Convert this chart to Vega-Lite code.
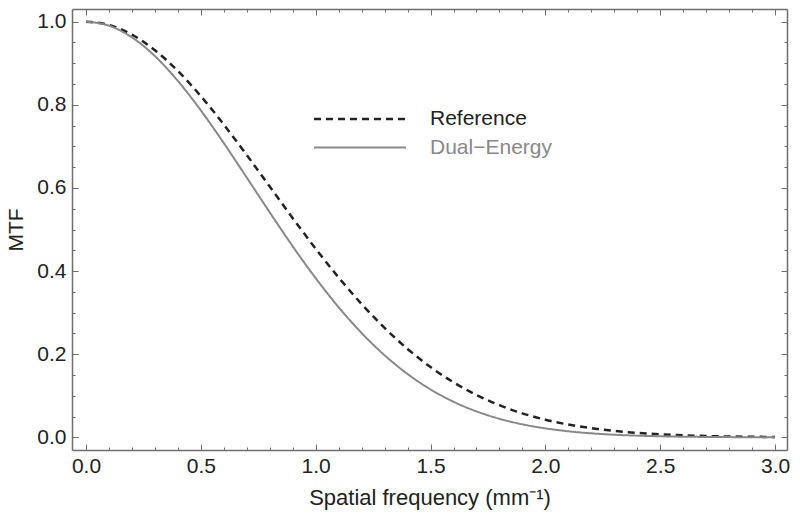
{
  "$schema": "https://vega.github.io/schema/vega-lite/v6.json",
  "width": 715,
  "height": 441,
  "autosize": "none",
  "padding": {"left": 72, "top": 9, "right": 13, "bottom": 71},
  "background": "white",
  "config": {
    "view": {"stroke": null},
    "font": "Liberation Sans",
    "axis": {
      "grid": false,
      "domainColor": "#6e6e6e",
      "domainWidth": 1.5,
      "tickColor": "#6e6e6e",
      "tickWidth": 1,
      "labelFont": "Liberation Sans",
      "labelFontSize": 21,
      "labelColor": "#222",
      "titleFont": "Liberation Sans",
      "titleFontSize": 21,
      "titleFontWeight": "normal",
      "titleColor": "#222",
      "labelOverlap": false,
      "labelFlush": false
    }
  },
  "data": {
    "values": [
      {"f": 0.0, "mtf": 1.0, "s": "Reference"},
      {"f": 0.1, "mtf": 0.9921, "s": "Reference"},
      {"f": 0.2, "mtf": 0.9689, "s": "Reference"},
      {"f": 0.3, "mtf": 0.9314, "s": "Reference"},
      {"f": 0.4, "mtf": 0.8813, "s": "Reference"},
      {"f": 0.5, "mtf": 0.8208, "s": "Reference"},
      {"f": 0.6, "mtf": 0.7525, "s": "Reference"},
      {"f": 0.7, "mtf": 0.679, "s": "Reference"},
      {"f": 0.8, "mtf": 0.6032, "s": "Reference"},
      {"f": 0.9, "mtf": 0.5273, "s": "Reference"},
      {"f": 1.0, "mtf": 0.4538, "s": "Reference"},
      {"f": 1.1, "mtf": 0.3845, "s": "Reference"},
      {"f": 1.2, "mtf": 0.3206, "s": "Reference"},
      {"f": 1.3, "mtf": 0.2631, "s": "Reference"},
      {"f": 1.4, "mtf": 0.2126, "s": "Reference"},
      {"f": 1.5, "mtf": 0.169, "s": "Reference"},
      {"f": 1.6, "mtf": 0.1323, "s": "Reference"},
      {"f": 1.7, "mtf": 0.102, "s": "Reference"},
      {"f": 1.8, "mtf": 0.0773, "s": "Reference"},
      {"f": 1.9, "mtf": 0.0577, "s": "Reference"},
      {"f": 2.0, "mtf": 0.0424, "s": "Reference"},
      {"f": 2.1, "mtf": 0.0307, "s": "Reference"},
      {"f": 2.2, "mtf": 0.0219, "s": "Reference"},
      {"f": 2.3, "mtf": 0.0153, "s": "Reference"},
      {"f": 2.4, "mtf": 0.0106, "s": "Reference"},
      {"f": 2.5, "mtf": 0.0072, "s": "Reference"},
      {"f": 2.6, "mtf": 0.0048, "s": "Reference"},
      {"f": 2.7, "mtf": 0.0032, "s": "Reference"},
      {"f": 2.8, "mtf": 0.002, "s": "Reference"},
      {"f": 2.9, "mtf": 0.0013, "s": "Reference"},
      {"f": 3.0, "mtf": 0.0008, "s": "Reference"},
      {"f": 0.0, "mtf": 1.0, "s": "Dual−Energy"},
      {"f": 0.1, "mtf": 0.9904, "s": "Dual−Energy"},
      {"f": 0.2, "mtf": 0.9623, "s": "Dual−Energy"},
      {"f": 0.3, "mtf": 0.9172, "s": "Dual−Energy"},
      {"f": 0.4, "mtf": 0.8574, "s": "Dual−Energy"},
      {"f": 0.5, "mtf": 0.7866, "s": "Dual−Energy"},
      {"f": 0.6, "mtf": 0.7078, "s": "Dual−Energy"},
      {"f": 0.7, "mtf": 0.6248, "s": "Dual−Energy"},
      {"f": 0.8, "mtf": 0.5411, "s": "Dual−Energy"},
      {"f": 0.9, "mtf": 0.4595, "s": "Dual−Energy"},
      {"f": 1.0, "mtf": 0.3829, "s": "Dual−Energy"},
      {"f": 1.1, "mtf": 0.313, "s": "Dual−Energy"},
      {"f": 1.2, "mtf": 0.251, "s": "Dual−Energy"},
      {"f": 1.3, "mtf": 0.1974, "s": "Dual−Energy"},
      {"f": 1.4, "mtf": 0.1524, "s": "Dual−Energy"},
      {"f": 1.5, "mtf": 0.1153, "s": "Dual−Energy"},
      {"f": 1.6, "mtf": 0.0856, "s": "Dual−Energy"},
      {"f": 1.7, "mtf": 0.0624, "s": "Dual−Energy"},
      {"f": 1.8, "mtf": 0.0446, "s": "Dual−Energy"},
      {"f": 1.9, "mtf": 0.0313, "s": "Dual−Energy"},
      {"f": 2.0, "mtf": 0.0215, "s": "Dual−Energy"},
      {"f": 2.1, "mtf": 0.0145, "s": "Dual−Energy"},
      {"f": 2.2, "mtf": 0.0096, "s": "Dual−Energy"},
      {"f": 2.3, "mtf": 0.0062, "s": "Dual−Energy"},
      {"f": 2.4, "mtf": 0.004, "s": "Dual−Energy"},
      {"f": 2.5, "mtf": 0.0025, "s": "Dual−Energy"},
      {"f": 2.6, "mtf": 0.0015, "s": "Dual−Energy"},
      {"f": 2.7, "mtf": 0.0009, "s": "Dual−Energy"},
      {"f": 2.8, "mtf": 0.0005, "s": "Dual−Energy"},
      {"f": 2.9, "mtf": 0.0003, "s": "Dual−Energy"},
      {"f": 3.0, "mtf": 0.0002, "s": "Dual−Energy"}
    ]
  },
  "layer": [
    {
      "mark": {"type": "line", "interpolate": "monotone", "clip": true},
      "encoding": {
        "x": {
          "field": "f", "type": "quantitative",
          "scale": {"domain": [-0.061, 3.052], "nice": false, "zero": false},
          "axis": {
            "orient": "bottom",
            "title": "Spatial frequency (mm⁻¹)",
            "values": [0,0.1,0.2,0.3,0.4,0.5,0.6,0.7,0.8,0.9,1,1.1,1.2,1.3,1.4,1.5,1.6,1.7,1.8,1.9,2,2.1,2.2,2.3,2.4,2.5,2.6,2.7,2.8,2.9,3],
            "labelExpr": "abs(datum.value*2 - round(datum.value*2)) < 0.000001 ? format(datum.value, '.1f') : ''",
            "tickSize": {"condition": {"test": "abs(datum.value*2 - round(datum.value*2)) < 0.000001", "value": -6}, "value": -3},
            "labelPadding": 11,
            "titlePadding": 8,
            "titleFontSize": 22
          }
        },
        "y": {
          "field": "mtf", "type": "quantitative",
          "scale": {"domain": [-0.0305, 1.0305], "nice": false, "zero": false},
          "axis": {
            "orient": "left",
            "title": "MTF",
            "values": [0,0.05,0.1,0.15,0.2,0.25,0.3,0.35,0.4,0.45,0.5,0.55,0.6,0.65,0.7,0.75,0.8,0.85,0.9,0.95,1],
            "labelExpr": "abs(datum.value*5 - round(datum.value*5)) < 0.000001 ? format(datum.value, '.1f') : ''",
            "tickSize": {"condition": {"test": "abs(datum.value*5 - round(datum.value*5)) < 0.000001", "value": -6}, "value": -3},
            "labelPadding": 12,
            "titlePadding": 10
          }
        },
        "color": {
          "field": "s", "type": "nominal",
          "scale": {"domain": ["Reference", "Dual−Energy"], "range": ["#222222", "#888888"]},
          "legend": {
            "title": null,
            "orient": "none",
            "legendX": 275,
            "legendY": 97,
            "symbolType": "M-4,0H4",
            "symbolSize": 529,
            "symbolStrokeWidth": 2,
            "labelFont": "Liberation Sans",
            "labelFontSize": 21,
            "labelOffset": 57,
            "rowPadding": 6,
            "encode": {
              "labels": {"update": {"fill": {"signal": "datum.label === 'Reference' ? '#222222' : '#888888'"}}}
            }
          }
        },
        "strokeDash": {
          "field": "s", "type": "nominal",
          "scale": {"domain": ["Reference", "Dual−Energy"], "range": [[7, 5], [1, 0]]},
          "legend": null
        },
        "strokeWidth": {
          "field": "s", "type": "nominal",
          "scale": {"domain": ["Reference", "Dual−Energy"], "range": [2.5, 2]},
          "legend": null
        }
      }
    },
    {
      "mark": {"type": "line", "strokeOpacity": 0},
      "encoding": {
        "x": {
          "field": "f", "type": "quantitative",
          "axis": {
            "orient": "top", "title": null, "labels": false,
            "values": [0,0.1,0.2,0.3,0.4,0.5,0.6,0.7,0.8,0.9,1,1.1,1.2,1.3,1.4,1.5,1.6,1.7,1.8,1.9,2,2.1,2.2,2.3,2.4,2.5,2.6,2.7,2.8,2.9,3],
            "tickSize": {"condition": {"test": "abs(datum.value*2 - round(datum.value*2)) < 0.000001", "value": -6}, "value": -3}
          }
        },
        "y": {
          "field": "mtf", "type": "quantitative",
          "axis": {
            "orient": "right", "title": null, "labels": false,
            "values": [0,0.05,0.1,0.15,0.2,0.25,0.3,0.35,0.4,0.45,0.5,0.55,0.6,0.65,0.7,0.75,0.8,0.85,0.9,0.95,1],
            "tickSize": {"condition": {"test": "abs(datum.value*5 - round(datum.value*5)) < 0.000001", "value": -6}, "value": -3}
          }
        },
        "detail": {"field": "s", "type": "nominal"}
      }
    }
  ],
  "resolve": {"axis": {"x": "independent", "y": "independent"}}
}
